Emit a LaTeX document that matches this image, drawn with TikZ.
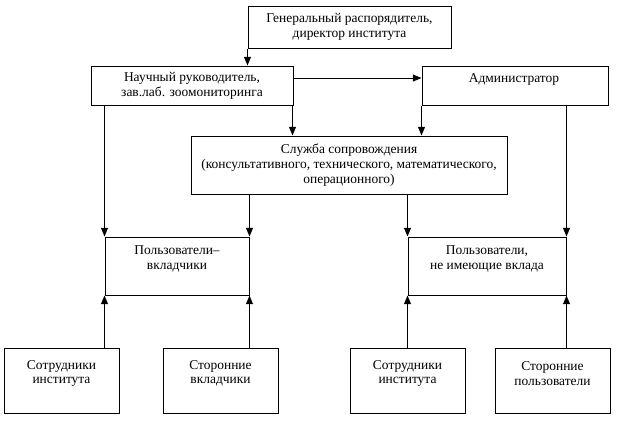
\documentclass[tikz,border=0pt]{standalone}
\usepackage{fontspec}
\setmainfont{Liberation Serif}
\usetikzlibrary{arrows.meta}
\begin{document}
\begin{tikzpicture}[x=0.75pt,y=-0.75pt,
  box/.style={draw, line width=0.75pt, inner sep=0pt, rectangle},
  txt/.style={align=center, inner sep=0pt, font=\fontsize{10.1}{11}\selectfont},
  arr/.style={line width=0.75pt, -{Triangle[length=6.5pt,width=5.2pt]}}]
\useasboundingbox (0,0) rectangle (623,421);
% boxes
\node[box, txt, minimum width=152.25pt, minimum height=31.5pt] (top) at (349.5,27)
  {Генеральный распорядитель,\\директор института};
\node[box, txt, minimum width=151.5pt, minimum height=29.25pt] (nauch) at (192,85.5)
  {Научный руководитель,\\зав.лаб. зоомониторинга};
\node[box, minimum width=139.5pt, minimum height=29.25pt] (admin) at (515,85.5) {};
\node[txt] (admint) at (514,79) {Администратор};
\node[box, txt, minimum width=237pt, minimum height=43.5pt] (sluzh) at (349,165)
  {Служба сопровождения\\(консультативного, технического, математического,\\операционного)};
\node[box, minimum width=108pt, minimum height=43.5pt] (pv) at (177,266) {};
\node[txt] (pvt) at (177,259) {Пользователи–\\вкладчики};
\node[box, minimum width=118.5pt, minimum height=43.5pt] (pn) at (487,266) {};
\node[txt] (pnt) at (487,259) {Пользователи,\\не имеющие вклада};
\node[box, minimum width=86.25pt, minimum height=48.75pt] (b1) at (61.5,380.5) {};
\node[txt] (b1t) at (61.5,373.5) {Сотрудники\\института};
\node[box, minimum width=86.25pt, minimum height=48.75pt] (b2) at (220.5,380.5) {};
\node[txt] (b2t) at (220.5,373.5) {Сторонние\\вкладчики};
\node[box, minimum width=86.25pt, minimum height=48.75pt] (b3) at (407.5,380.5) {};
\node[txt] (b3t) at (407.5,373.5) {Сотрудники\\института};
\node[box, minimum width=86.25pt, minimum height=48.75pt] (b4) at (552.5,380.5) {};
\node[txt] (b4t) at (552.5,373.5) {Сторонние\\пользователи};
% connectors
\draw[arr] (top.south west) -- (top.south west |- nauch.north);
\draw[arr] ([yshift=5.6pt]nauch.east) -- ([yshift=5.6pt]admin.west);
\draw[arr] ([xshift=-0.75pt]nauch.south east) -- ([xshift=-0.75pt]nauch.south east |- sluzh.north);
\draw[arr] (admin.south west) -- (admin.south west |- sluzh.north);
\draw[arr] (nauch.south -| pv.north west) -- (pv.north west);
\draw[arr] (admin.south -| pn.north east) -- (pn.north east);
\draw[arr] (sluzh.south -| pv.north east) -- (pv.north east);
\draw[arr] (sluzh.south -| pn.north west) -- (pn.north west);
\draw[arr] (b1.north -| pv.south west) -- (pv.south west);
\draw[arr] (b2.north -| pv.south east) -- (pv.south east);
\draw[arr] (b3.north -| pn.south west) -- (pn.south west);
\draw[arr] (b4.north -| pn.south east) -- (pn.south east);
\end{tikzpicture}
\end{document}
